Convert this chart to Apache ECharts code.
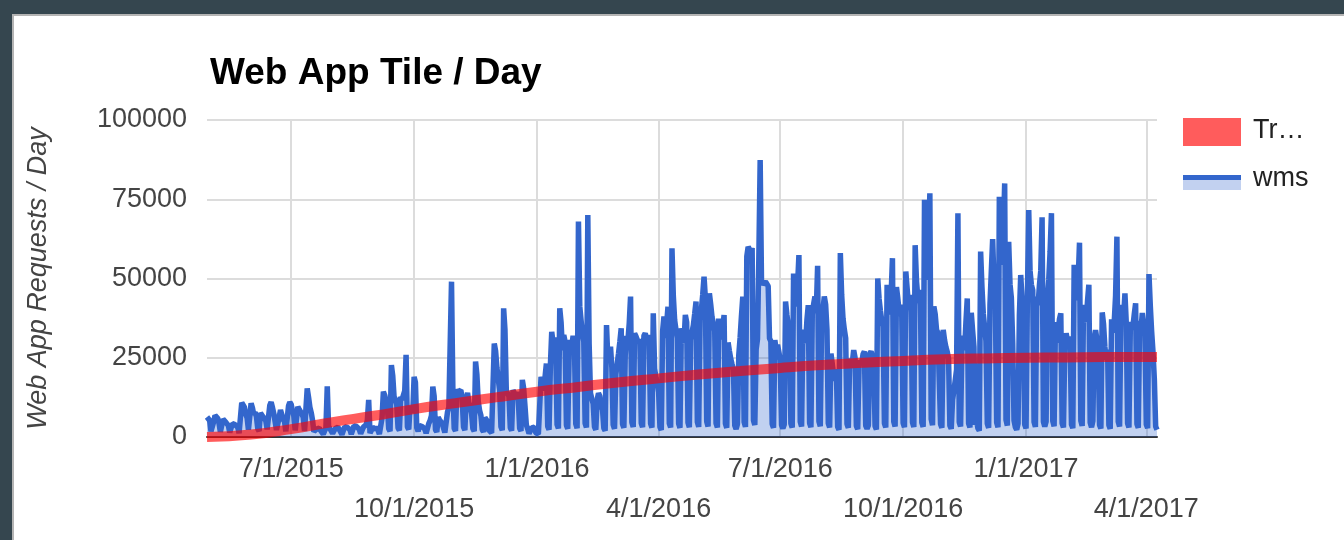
<!DOCTYPE html>
<html>
<head>
<meta charset="utf-8">
<title>Web App Tile / Day</title>
<script src="https://cdn.jsdelivr.net/npm/echarts@6/dist/echarts.min.js"></script>
<style>
  html, body { margin: 0; padding: 0; width: 1344px; height: 540px; overflow: hidden; background: #35464f; }
  .card { position: absolute; left: 12px; top: 14px; width: 1400px; height: 600px; background: #fff; border: 2px solid #b4b4b4; box-sizing: border-box; }
  #chart { position: absolute; left: 0; top: 0; width: 1344px; height: 540px; }
</style>
</head>
<body>
<div class="card"></div>
<div id="chart"></div>
<script>
// daily requests, first day Wed 2015-04-29, one line per week (Mon..Sun)
const START_DATE = "2015-04-29";
const WMS = [
  6300, 6600, 5200, 1800, 2400,
  4800, 6800, 6500, 5900, 4300, 1600, 1200,
  5600, 6100, 4700, 4900, 3600, 1400, 900,
  4200, 4800, 3900, 4500, 3100, 1200, 1500,
  10800, 11000, 9400, 7200, 6100, 2300, 1800,
  10600, 9200, 7100, 7800, 6400, 2600, 1900,
  7600, 7900, 6300, 5700, 5200, 2400, 1900,
  10000, 11000, 9300, 7400, 6800, 2200, 1700,
  6200, 8500, 7900, 5600, 4900, 1800, 1500,
  9800, 11000, 10300, 8100, 6600, 2100, 1600,
  9500, 8700, 9100, 7300, 6200, 1900, 1400,
  15300, 12600, 9400, 7700, 5300, 1700, 1200,
  2500, 2200, 2800, 2100, 1900, 900, 700,
  2900, 16000, 3400, 2600, 2300, 1100, 800,
  2700, 2500, 3100, 2400, 2000, 800, 600,
  3200, 2900, 3000, 2600, 2300, 900, 700,
  3500, 3100, 3300, 2800, 2400, 1000, 800,
  3100, 3400, 3800, 5200, 11700, 1200, 900,
  3000, 2700, 2500, 3200, 2100, 900, 700,
  6000, 14300, 13200, 11400, 9700, 2600, 1800,
  22700, 19400, 12700, 11900, 10200, 2800, 2100,
  12700, 11800, 12200, 14600, 25900, 3200, 2400,
  9800, 8600, 7600, 19000, 17200, 2900, 1800,
  3600, 4100, 3300, 2800, 2500, 1200, 900,
  4300, 5200, 6800, 15900, 12900, 2300, 1600,
  6200, 5400, 4800, 4300, 3800, 1400, 900,
  7900, 9400, 8800, 49000, 15600, 2700, 1900,
  15000, 14200, 13600, 14800, 11900, 3100, 2200,
  12300, 13900, 10800, 9600, 7400, 2600, 1800,
  23800, 19700, 11200, 8400, 6800, 2300, 1600,
  6100, 5800, 4900, 2200, 2600, 1300, 900,
  29500, 27100, 21800, 18200, 14900, 3200, 2100,
  40600, 33900, 14800, 13600, 12900, 2900, 2000,
  14800, 13900, 12700, 14200, 11600, 2700, 1900,
  18000, 15400, 9700, 3800, 2600, 1100, 800,
  2900, 3500, 3100, 1400, 1600, 900, 700,
  19000, 16200, 14700, 15100, 23200, 3300, 2300,
  22600, 33200, 29800, 31400, 27600, 3900, 2700,
  40600, 36200, 27400, 32200, 30100, 3700, 2600,
  25800, 30600, 28700, 31900, 29300, 4100, 2800,
  68000, 41200, 36700, 32400, 30100, 4300, 3000,
  70000, 29400, 13800, 12100, 10600, 3200, 2300,
  11700, 13800, 12900, 9800, 8700, 2800, 2000,
  35300, 24600, 26200, 28500, 21900, 3800, 2600,
  19800, 23100, 26400, 30100, 34300, 4100, 2900,
  25700, 31900, 30200, 35800, 44300, 4600, 3200,
  32700, 31800, 32400, 29600, 30900, 4400, 3100,
  31900, 32700, 30800, 32100, 29700, 4200, 3000,
  39000, 21600, 18700, 16900, 14200, 3100, 2200,
  33400, 38000, 31200, 35600, 41100, 4300, 3000,
  59500, 44600, 36900, 33800, 31200, 4200, 2900,
  34300, 31700, 29800, 38500, 36200, 4500, 3100,
  30600, 33100, 35200, 38900, 42700, 4700, 3200,
  36800, 40200, 44900, 50600, 43700, 4900, 3300,
  45300, 41800, 37700, 35900, 33400, 4300, 3000,
  37400, 33600, 30800, 34700, 38500, 4200, 2900,
  29800, 27100, 24600, 22900, 21300, 3600, 2500,
  4100, 25900, 31400, 38200, 44300, 4700, 3200,
  57000, 60000, 59200, 58400, 59600, 5200, 3800,
  27600, 30900, 56300, 87400, 49000, 48200, 47700,
  49000, 48400, 47600, 31100, 30200, 4100, 2900,
  30600, 27400, 29100, 26800, 24300, 3800, 2700,
  3900, 42700, 38600, 35200, 33100, 4200, 3000,
  51600, 44900, 41200, 47800, 57400, 4800, 3300,
  33800, 31700, 29600, 36900, 41600, 4400, 3100,
  38700, 41900, 44300, 39700, 54000, 4900, 3400,
  36400, 40100, 44300, 41800, 33900, 4300, 3000,
  26300, 22900, 19600, 17800, 21400, 3200, 2300,
  58000, 44800, 37400, 33900, 31200, 4100, 2900,
  24800, 21900, 23600, 27400, 25100, 3500, 2500,
  22600, 24100, 23300, 26100, 27000, 3600, 2600,
  3700, 26300, 27000, 25400, 24200, 3400, 2400,
  50000, 43600, 39800, 36700, 34900, 4300, 3000,
  48000, 41300, 38700, 44600, 56400, 4800, 3300,
  47300, 43800, 39600, 41700, 37900, 4400, 3100,
  52200, 46900, 41400, 44800, 39600, 4600, 3200,
  60500, 49200, 43900, 46400, 41700, 4500, 3200,
  74800, 58300, 49600, 61200, 76900, 5600, 3700,
  41200, 38700, 33800, 32900, 33400, 4100, 2900,
  33800, 30600, 28400, 26900, 24700, 3600, 2600,
  11800, 14600, 17900, 21300, 70600, 4700, 3300,
  28700, 31900, 27400, 36200, 43700, 4300, 3000,
  39200, 33600, 28400, 3900, 5100, 2700, 2000,
  58500, 47300, 38900, 34600, 30200, 4200, 2900,
  41800, 52300, 62400, 48700, 44100, 4600, 3100,
  75800, 59700, 54300, 63900, 80000, 5400, 3600,
  61600, 48200, 43900, 29700, 5200, 3100, 2300,
  4200, 38400, 51100, 43600, 33900, 3900, 2700,
  44200, 71600, 52400, 48000, 46300, 4700, 3200,
  44300, 41600, 47900, 52400, 69300, 4800, 3300,
  4900, 44300, 49700, 58600, 70600, 5000, 3400,
  36300, 29800, 33100, 37200, 39000, 4300, 3000,
  28900, 32700, 30400, 31600, 29800, 3900, 2800,
  54300, 46800, 43200, 49600, 61300, 5100, 3500,
  41700, 38200, 36400, 42900, 48000, 4500, 3100,
  5100, 31400, 33700, 30900, 27600, 3800, 2700,
  39300, 35600, 28400, 24300, 27600, 3700, 2600,
  37100, 32900, 36400, 44600, 63200, 4800, 3300,
  38900, 41600, 37700, 45300, 36100, 4300, 3000,
  33600, 36200, 34900, 38800, 42200, 4100, 2900,
  36700, 33800, 39100, 35600, 31900, 3900, 2800,
  51400, 41300, 33200, 26900, 18400, 3300, 2300
];

// trendline at month starts
const TREND_DATES = [
  "2015-04-29", "2015-06-01", "2015-07-01", "2015-08-01", "2015-09-01",
  "2015-10-01", "2015-11-01", "2015-12-01", "2016-01-01", "2016-02-01",
  "2016-03-01", "2016-04-01", "2016-05-01", "2016-06-01", "2016-07-01",
  "2016-08-01", "2016-09-01", "2016-10-01", "2016-11-01", "2016-12-01",
  "2017-01-01", "2017-02-01", "2017-03-01", "2017-04-01", "2017-04-09"
];
const TREND = [
  0, 800, 2500, 4700, 6700,
  8800, 10700, 12500, 14300, 15800,
  17200, 18500, 19700, 20800, 21800,
  22700, 23400, 24000, 24500, 24800,
  25000, 25100, 25200, 25200, 25200
];

const Y_MAX = 100000;
const Y_STEP = 25000;
const QUARTER_MONTHS = [1, 4, 7, 10];
const LOWER_ROW_MONTHS = [4, 10];

const FONT = "'Liberation Sans', Arial, sans-serif";

const days = WMS.map((_, i) => {
  const d = new Date(START_DATE + "T00:00:00Z");
  d.setUTCDate(d.getUTCDate() + i);
  return d.toISOString().slice(0, 10);
});

const isQuarterStart = (idx, value) => {
  const parts = value.split("-").map(Number);
  return parts[2] === 1 && QUARTER_MONTHS.includes(parts[1]);
};

const trendData = TREND_DATES.map((d, i) => [days.indexOf(d), TREND[i]]);

const chart = echarts.init(document.getElementById("chart"));

const option = {
  animation: false,
  title: {
    text: "Web App Tile / Day",
    left: 205,
    top: 50,
    textStyle: { fontFamily: FONT, fontSize: 37, fontWeight: "bold", color: "#000" },
  },
  grid: { left: 207, top: 120, width: 950, height: 317, outerBoundsMode: "none" },
  xAxis: {
    type: "category",
    data: days,
    boundaryGap: false,
    axisLine: { lineStyle: { color: "#333", width: 2 } },
    axisTick: { show: false },
    axisLabel: {
      interval: isQuarterStart,
      margin: 13,
      fontFamily: FONT,
      fontSize: 27,
      lineHeight: 40,
      color: "#444",
      formatter: (value) => {
        const p = value.split("-").map(Number);
        const text = p[1] + "/" + p[2] + "/" + p[0];
        return LOWER_ROW_MONTHS.includes(p[1]) ? "\n" + text : text;
      },
    },
    splitLine: { show: true, interval: isQuarterStart, lineStyle: { color: "#dcdcdc", width: 2 } },
  },
  yAxis: {
    type: "value",
    min: 0,
    max: Y_MAX,
    interval: Y_STEP,
    name: "Web App Requests / Day",
    nameLocation: "middle",
    nameRotate: 90,
    nameGap: 155,
    nameTextStyle: { fontFamily: FONT, fontSize: 27, fontStyle: "italic", color: "#444" },
    axisLine: { show: false },
    axisTick: { show: false },
    axisLabel: { margin: 20, fontFamily: FONT, fontSize: 27, color: "#444", formatter: (v) => String(v) },
    splitLine: { lineStyle: { color: "#dcdcdc", width: 2 } },
  },
  series: [
    {
      name: "wms",
      type: "line",
      data: WMS,
      symbol: "none",
      lineStyle: { color: "#3366cc", width: 5.5 },
      itemStyle: { color: "#3366cc" },
      areaStyle: { color: "#3366cc", opacity: 0.3 },
      z: 2,
    },
    {
      name: "Trendline",
      type: "line",
      data: trendData,
      smooth: true,
      symbol: "none",
      lineStyle: { color: "#ff0000", width: 10, opacity: 0.64 },
      itemStyle: { color: "#ff0000" },
      z: 3,
    },
  ],
  graphic: [
    { type: "rect", shape: { x: 1183, y: 118, width: 58, height: 28 }, style: { fill: "#ff5c5c" } },
    { type: "text", left: 1253, top: 117, style: { text: "Tr\u2026", font: "27px " + FONT, fill: "#222" } },
    { type: "rect", shape: { x: 1183, y: 180, width: 58, height: 10 }, style: { fill: "#c2d1f0" } },
    { type: "rect", shape: { x: 1183, y: 175, width: 58, height: 5 }, style: { fill: "#3366cc" } },
    { type: "text", left: 1253, top: 165, style: { text: "wms", font: "27px " + FONT, fill: "#222" } },
  ],
};

chart.setOption(option);
window.addEventListener("resize", () => chart.resize());
</script>
</body>
</html>
